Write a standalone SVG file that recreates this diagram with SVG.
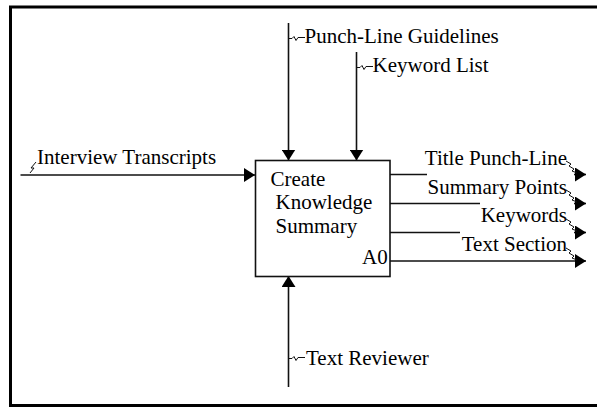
<svg xmlns="http://www.w3.org/2000/svg" xmlns:xlink="http://www.w3.org/1999/xlink" width="597" height="407" viewBox="0 0 597 407">
  <style>
    .lbl { font-family: "Liberation Serif", "Times New Roman", serif; font-size: 21px; fill: #000; }
    .end { text-anchor: end; }
    .wire { stroke: #111; stroke-width: 1.6; fill: none; }
    .sq { stroke: #111; stroke-width: 1; fill: none; }
    .box { fill: #fff; stroke: #111; stroke-width: 1.6; }
    .frame { fill: none; stroke: #000; stroke-width: 3; }
  </style>
  <defs>
    <marker id="head" viewBox="0 0 11 14" refX="11" refY="7" markerWidth="11" markerHeight="14" markerUnits="userSpaceOnUse" orient="auto">
      <path d="M0,0 L11,7 L0,14 Z" fill="#000"/>
    </marker>
    <!-- horizontal tilde used to tie a label to its vertical arrow -->
    <path id="tilde" d="M0,0 h3 l2,-2 l2,4 l2,-3 h7"/>
    <!-- slanted squiggle tying an output label to its arrowhead -->
    <path id="zig" d="M0,0 l5,3 l-2,2 l5,3 l-2,2 l5,2"/>
  </defs>

  <rect width="597" height="407" fill="#fff"/>
  <rect class="frame" x="10.5" y="7" width="600" height="398.5"/>

  <g id="connectors">
    <!-- input -->
    <path class="wire" d="M20.5,175 H255" marker-end="url(#head)"/>
    <path class="sq" d="M30,173 l4,-5 l-3,0 l5,-6"/>
    <!-- controls -->
    <path class="wire" d="M288.5,23 V160.5" marker-end="url(#head)"/>
    <use class="sq" xlink:href="#tilde" x="289" y="38.5"/>
    <path class="wire" d="M356.5,52 V160.5" marker-end="url(#head)"/>
    <use class="sq" xlink:href="#tilde" x="357" y="67.5"/>
    <!-- mechanism -->
    <path class="wire" d="M288.5,387 V276" marker-end="url(#head)"/>
    <use class="sq" xlink:href="#tilde" x="289" y="358.5"/>
    <!-- outputs -->
    <path class="wire" d="M390,174.5 H427"/>
    <path class="wire" d="M574,174.5 H586" marker-end="url(#head)"/>
    <use class="sq" xlink:href="#zig" x="566" y="161"/>
    <path class="wire" d="M390,203.5 H480"/>
    <path class="wire" d="M574,203.5 H586" marker-end="url(#head)"/>
    <use class="sq" xlink:href="#zig" x="566" y="190"/>
    <path class="wire" d="M390,232.5 H460"/>
    <path class="wire" d="M574,232.5 H586" marker-end="url(#head)"/>
    <use class="sq" xlink:href="#zig" x="566" y="219"/>
    <path class="wire" d="M390,261 H586" marker-end="url(#head)"/>
    <use class="sq" xlink:href="#zig" x="566" y="248"/>
  </g>

  <g id="A0">
    <rect class="box" x="255.5" y="160.5" width="134.5" height="116"/>
    <text class="lbl" x="270.5" y="186">Create</text>
    <text class="lbl" x="275.5" y="209">Knowledge</text>
    <text class="lbl" x="275.5" y="232.5">Summary</text>
    <text class="lbl" x="362" y="263.5">A0</text>
  </g>

  <g id="labels">
    <text class="lbl" x="37" y="164">Interview Transcripts</text>
    <text class="lbl" x="304.5" y="43">Punch-Line Guidelines</text>
    <text class="lbl" x="372.5" y="72">Keyword List</text>
    <text class="lbl" x="306" y="365">Text Reviewer</text>
    <text class="lbl end" x="567" y="165">Title Punch-Line</text>
    <text class="lbl end" x="567" y="193.5">Summary Points</text>
    <text class="lbl end" x="567" y="222">Keywords</text>
    <text class="lbl end" x="567" y="251">Text Section</text>
  </g>
</svg>
